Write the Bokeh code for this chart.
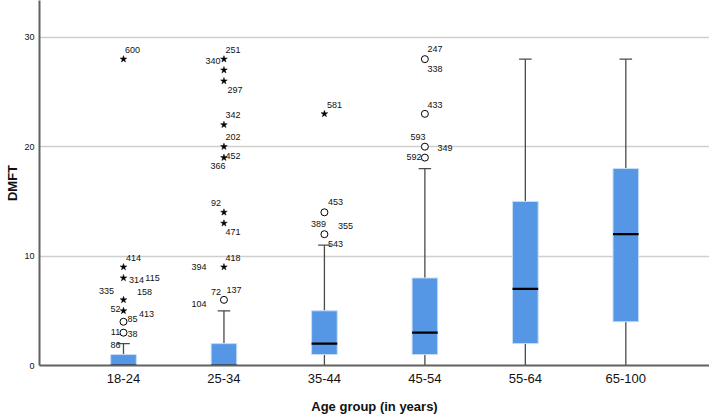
from bokeh.plotting import figure
from bokeh.models import Range1d, FixedTicker, ColumnDataSource
from bokeh.core.properties import value
from bokeh.embed import file_html
from bokeh.resources import INLINE

# ---------------- data ----------------
categories = ["18-24", "25-34", "35-44", "45-54", "55-64", "65-100"]
q1 = [0, 0, 1, 1, 2, 4]
median = [0, 0, 2, 3, 7, 12]
q3 = [1, 2, 5, 8, 15, 18]
whisker_low = [0, 0, 0, 0, 0, 0]
whisker_high = [2, 5, 11, 18, 28, 28]

# outliers (open circles): group index, value
circle_group = [0, 0, 1, 2, 2, 3, 3, 3, 3]
circle_value = [4, 3, 6, 14, 12, 28, 23, 20, 19]

# extremes (stars): group index, value
star_group = [0, 0, 0, 0, 0, 1, 1, 1, 1, 1, 1, 1, 1, 1, 2]
star_value = [28, 9, 8, 6, 5, 28, 27, 26, 22, 20, 19, 14, 13, 9, 23]

# case labels: text, group index, value of the point they belong to
label_text = ["600", "414", "314", "115", "335", "158", "52", "85", "413", "11", "38", "86",
              "251", "340", "297", "342", "202", "452", "366", "92", "471", "418", "394",
              "72", "137", "104",
              "581", "453", "389", "355", "543",
              "247", "338", "433", "593", "349", "592"]
label_group = [0] * 12 + [1] * 14 + [2] * 5 + [3] * 6
label_value = [28, 9, 8, 8, 6, 6, 5, 4, 4, 3, 3, 3,
               28, 28, 26, 22, 20, 19, 19, 14, 13, 9, 9, 6, 6, 6,
               23, 14, 12, 12, 12,
               28, 28, 23, 20, 20, 19]
# label placement (screen pixels relative to the point)
label_dx = [9, 10, 13, 29, -17, 21, -8, 9, 23, -8, 9, -8,
            9, -11, 11, 9, 9, 9, -6, -8, 9, 9, -25, -8, 10, -25,
            10, 11, -6, 21, 11,
            10, 10, 10, -7, 20, -11]
label_dy = [-9, -9, 2, 0, -9, -8, -2, -3, -8, -1, 1, 12,
            -9, 2, 9, -10, -10, -2, 8, -9, 9, -9, 0, -8, -10, 4,
            -9, -10, -10, -8, 10,
            -10, 10, -9, -10, 1, -1]

# ---------------- figure ----------------
xs = list(range(len(categories)))
p = figure(width=709, height=416, output_backend="svg", toolbar_location=None,
           x_range=Range1d(-0.836, 5.833), y_range=Range1d(0, 33.36),
           min_border_left=39, min_border_right=0, min_border_top=0, min_border_bottom=49)
p.outline_line_color = None
p.background_fill_color = "white"
p.border_fill_color = "white"

FONT = "Liberation Sans"
BOX = "#5596e5"
WH = "#4a4a4a"
box_w = 0.255
cap_w = 0.125

src = ColumnDataSource(dict(x=xs, q1=q1, med=median, q3=q3, lo=whisker_low, hi=whisker_high,
                            l=[x - box_w / 2 for x in xs], r=[x + box_w / 2 for x in xs],
                            cl=[x - cap_w / 2 for x in xs], cr=[x + cap_w / 2 for x in xs]))

# whiskers
p.segment(x0="x", y0="q3", x1="x", y1="hi", source=src, line_color=WH, line_width=1.3)
p.segment(x0="x", y0="q1", x1="x", y1="lo", source=src, line_color=WH, line_width=1.3)
p.segment(x0="cl", y0="hi", x1="cr", y1="hi", source=src, line_color=WH, line_width=1.3)
# boxes
p.vbar(x="x", width=box_w, bottom="q1", top="q3", source=src,
       fill_color=BOX, line_color="#c9ddf6", line_width=1)
# medians
p.segment(x0="l", y0="med", x1="r", y1="med", source=src, line_color="black", line_width=2.2)

# outliers
p.scatter(x=circle_group, y=circle_value, marker="circle", size=7,
          fill_color="white", line_color="black", line_width=1)
p.scatter(x=star_group, y=star_value, marker="star", size=7,
          fill_color="black", line_color="black", line_width=0.5)

lsrc = ColumnDataSource(dict(x=label_group, y=label_value, t=label_text, dx=label_dx, dy=label_dy))
p.text(x="x", y="y", text="t", x_offset="dx", y_offset="dy", source=lsrc,
       text_font=value(FONT), text_font_size="9px", text_align="center",
       text_baseline="middle", text_color="#111111")

# axes
p.xaxis.ticker = FixedTicker(ticks=xs)
p.xaxis.major_label_overrides = {i: c for i, c in enumerate(categories)}
p.yaxis.ticker = FixedTicker(ticks=[0, 10, 20, 30])
p.xgrid.visible = False
p.ygrid.grid_line_color = "#cfcfcf"
p.ygrid.grid_line_width = 1.3

for ax in (p.xaxis[0], p.yaxis[0]):
    ax.axis_line_color = "#616161"
    ax.axis_line_width = 2
    ax.major_tick_line_color = None
    ax.minor_tick_line_color = None
    ax.major_tick_out = 0
    ax.major_tick_in = 0
    ax.major_label_text_font = FONT
    ax.axis_label_text_font = FONT
    ax.axis_label_text_font_style = "bold"
    ax.axis_label_text_font_size = "13px"
    ax.axis_label_text_color = "#111111"
    ax.major_label_text_color = "#111111"

p.xaxis.axis_label = "Age group (in years)"
p.xaxis.major_label_text_font_size = "13px"
p.xaxis.major_label_standoff = 8
p.xaxis.axis_label_standoff = 13
p.yaxis.axis_label = "DMFT"
p.yaxis.major_label_text_font_size = "9px"
p.yaxis.major_label_standoff = 5
p.yaxis.axis_label_standoff = 1

open("out.html", "w").write(file_html(p, INLINE))
